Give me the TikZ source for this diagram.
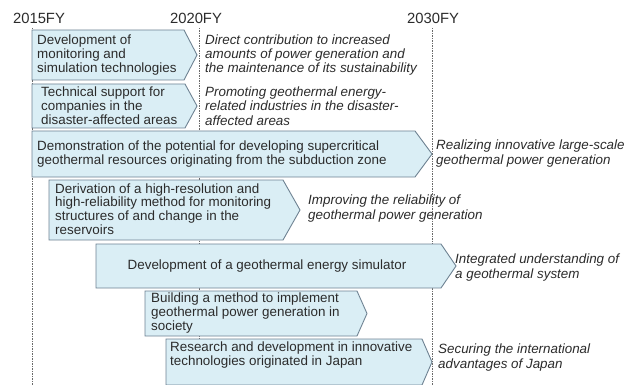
\documentclass[tikz,border=0pt]{standalone}
\usepackage{fontspec}
\setmainfont{Liberation Sans}
\definecolor{boxfill}{HTML}{DAEEF5}
\definecolor{boxline}{HTML}{6E8292}
\definecolor{txt}{HTML}{2B2B2B}
\definecolor{guide}{HTML}{6A6A6A}
\newcommand{\pentbox}[6]{% name, left, top, body right, tip, bottom
  \draw[pent] (#2,#3) -- (#4,#3) -- (#5,{(#3+#6)/2}) -- (#4,#6) -- (#2,#6) -- cycle;
  \coordinate (#1) at (#2,{(#3+#6)/2});
}
\tikzset{
  pent/.style={fill=boxfill, draw=boxline, line width=0.9pt, line join=miter},
  guideline/.style={draw=guide, line width=0.8pt, dash pattern=on 1.5pt off 1pt},
  intext/.style={inner sep=0pt, anchor=west, align=left, text=txt,
    font={\fontsize{13.4}{13.8}\selectfont}},
  outtext/.style={inner sep=0pt, anchor=west, align=left, text=txt,
    font={\fontsize{13.4}{14.4}\selectfont\itshape}},
  yearlabel/.style={inner sep=0pt, text=txt, font={\fontsize{14.8}{16}\selectfont}}
}
\begin{document}
\begin{tikzpicture}[x=1pt,y=-1pt]
\useasboundingbox (0,0) rectangle (637,385);
% year labels
\node[yearlabel] (y15) at (39,18) {2015FY};
\node[yearlabel] (y20) at (196,18) {2020FY};
\node[yearlabel] (y30) at (433,18) {2030FY};
% guide lines
\coordinate (g15a) at (32,28);  \coordinate (g15b) at (32,385);
\coordinate (g20a) at (199,28); \coordinate (g20b) at (199,385);
\coordinate (g30a) at (432,28); \coordinate (g30b) at (432,385);
\draw[guideline] (g15a) -- (g15b);
\draw[guideline] (g20a) -- (g20b);
\draw[guideline] (g30a) -- (g30b);
% boxes
\pentbox{b1}{32}{30}{184}{197}{80}
\pentbox{b2}{32}{84}{185}{197}{128}
\pentbox{b3}{32}{131}{415}{432}{177}
\pentbox{b4}{49}{180}{283}{300}{240}
\pentbox{b5}{96}{244}{441}{456}{288}
\pentbox{b6}{145}{291}{357}{367}{336}
\pentbox{b7}{166}{339}{422}{432}{385}
% box texts
\node[intext] (t1) at (37,55) {Development of\\monitoring and\\simulation technologies};
\node[intext] (t2) at (41,106) {Technical support for\\companies in the\\disaster-affected areas};
\node[intext] (t3) at (37,154) {Demonstration of the potential for developing supercritical\\geothermal resources originating from the subduction zone};
\node[intext] (t4) at (55,209) {Derivation of a high-resolution and\\high-reliability method for monitoring\\structures of and change in the\\reservoirs};
\node[intext, anchor=center] (t5) at (267,266) {Development of a geothermal energy simulator};
\node[intext] (t6) at (151,313) {Building a method to implement\\geothermal power generation in\\society};
\node[intext] (t7) at (170,355) {Research and development in innovative\\technologies originated in Japan};
% outcomes
\node[outtext] (o1) at (205,55) {Direct contribution to increased\\amounts of power generation and\\the maintenance of its sustainability};
\node[outtext] (o2) at (205,106) {Promoting geothermal energy-\\related industries in the disaster-\\affected areas};
\node[outtext] (o3) at (436,153.5) {Realizing innovative large-scale\\geothermal power generation};
\node[outtext] (o4) at (308,208.5) {Improving the reliability of\\geothermal power generation};
\node[outtext] (o5) at (455,267.5) {Integrated understanding of\\a geothermal system};
\node[outtext] (o6) at (438,357.5) {Securing the international\\advantages of Japan};
\end{tikzpicture}
\end{document}
